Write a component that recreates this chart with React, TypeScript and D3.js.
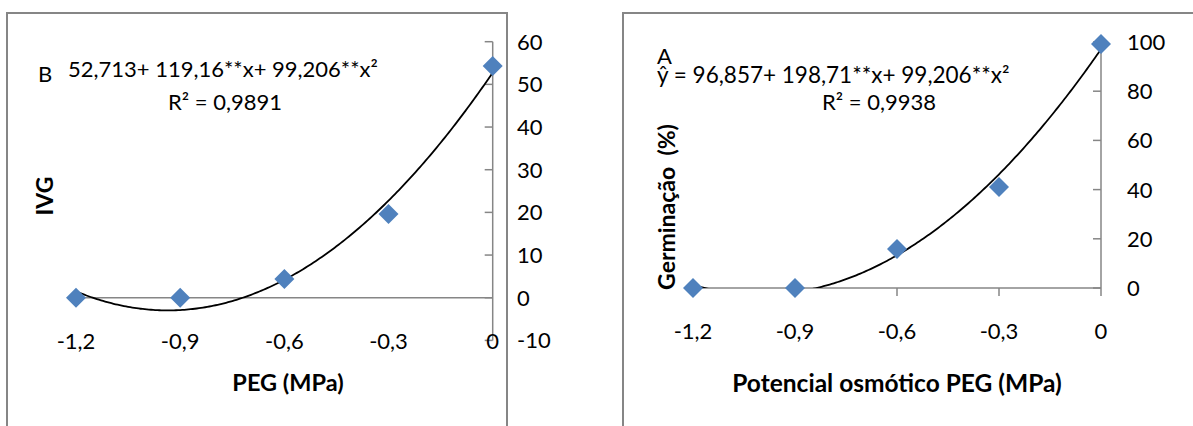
import React from "react";
import * as d3 from "d3";

// ---------- data ----------
const xValues = [-1.2, -0.9, -0.6, -0.3, 0];
const xTickLabels = ["-1,2", "-0,9", "-0,6", "-0,3", "0"];

const ivgValues = [0, 0, 4.4, 19.6, 54.3];
const ivgTicks = [-10, 0, 10, 20, 30, 40, 50, 60];

const germValues = [0, 0, 15.9, 41.1, 99.2];
const germTicks = [0, 20, 40, 60, 80, 100];

const FONT = "Lato, 'Open Sans', sans-serif";
const AXIS = "#868686";
const MARK = "#4f81bd";

function quadFit(xs: number[], ys: number[]) {
  // least squares y = a + b x + c x^2
  const n = xs.length;
  let s1 = 0, s2 = 0, s3 = 0, s4 = 0, t0 = 0, t1 = 0, t2 = 0;
  for (let i = 0; i < n; i++) {
    const x = xs[i], y = ys[i];
    s1 += x; s2 += x * x; s3 += x * x * x; s4 += x * x * x * x;
    t0 += y; t1 += x * y; t2 += x * x * y;
  }
  const M = [
    [n, s1, s2, t0],
    [s1, s2, s3, t1],
    [s2, s3, s4, t2],
  ];
  for (let i = 0; i < 3; i++) {
    let p = i;
    for (let r = i + 1; r < 3; r++) if (Math.abs(M[r][i]) > Math.abs(M[p][i])) p = r;
    [M[i], M[p]] = [M[p], M[i]];
    for (let r = 0; r < 3; r++) {
      if (r === i) continue;
      const f = M[r][i] / M[i][i];
      for (let k = i; k < 4; k++) M[r][k] -= f * M[i][k];
    }
  }
  const a = M[0][3] / M[0][0], b = M[1][3] / M[1][1], c = M[2][3] / M[2][2];
  return (x: number) => a + b * x + c * x * x;
}

type PanelProps = {
  id: string;
  values: number[];
  yTicks: number[];
  xRange: [number, number];
  yRange: [number, number];
  yLabelX: number;
  xLabelY: number;
  xTickMarks: boolean;
};

function Panel(p: PanelProps) {
  const x = d3.scaleLinear().domain([-1.2, 0]).range(p.xRange);
  const yDom = d3.extent(p.yTicks) as [number, number];
  const y = d3.scaleLinear().domain(yDom).range(p.yRange);
  const axisX = p.xRange[1];
  const zeroY = y(0);
  const fit = quadFit(xValues, p.values);
  const curvePts = d3.range(0, 201).map((i) => {
    const xv = -1.2 + (1.2 * i) / 200;
    return [x(xv), y(fit(xv))] as [number, number];
  });
  const line = d3.line();
  const clipId = "clip-" + p.id;
  const top = y(yDom[1]);
  const bottom = y(yDom[0]);
  return (
    <g>
      <defs>
        <clipPath id={clipId}>
          <rect x={p.xRange[0] - 20} y={top} width={axisX - p.xRange[0] + 20} height={bottom - top} />
        </clipPath>
      </defs>
      {/* x axis line */}
      <line x1={p.xRange[0]} x2={axisX} y1={zeroY} y2={zeroY} stroke={AXIS} strokeWidth={1.5} />
      {p.xTickMarks &&
        xValues.map((v, i) => (
          <line key={"xt" + i} x1={x(v)} x2={x(v)} y1={zeroY} y2={zeroY + 8} stroke={AXIS} strokeWidth={1.5} />
        ))}
      {/* y axis line */}
      <line x1={axisX} x2={axisX} y1={top} y2={bottom} stroke={AXIS} strokeWidth={1.5} />
      {p.yTicks.map((t) => (
        <line key={"yt" + t} x1={axisX - 8} x2={axisX} y1={y(t)} y2={y(t)} stroke={AXIS} strokeWidth={1.5} />
      ))}
      {p.yTicks.map((t) => (
        <text
          key={"yl" + t}
          x={p.yLabelX}
          y={y(t)}
          dy="0.36em"
          fontSize={22}
          fontFamily={FONT}
          fill="#000"
        >
          {String(t)}
        </text>
      ))}
      {xValues.map((v, i) => (
        <text
          key={"xl" + i}
          x={x(v)}
          y={p.xLabelY}
          dy="0.36em"
          textAnchor="middle"
          fontSize={22}
          fontFamily={FONT}
          fill="#000"
        >
          {xTickLabels[i]}
        </text>
      ))}
      {/* trend line */}
      <path d={line(curvePts) || ""} fill="none" stroke="#000" strokeWidth={1.8} clipPath={`url(#${clipId})`} />
      {/* markers */}
      {p.values.map((v, i) => {
        const cx = x(xValues[i]);
        const cy = y(v);
        const r = 10;
        return (
          <path
            key={"m" + i}
            d={`M${cx},${cy - r}L${cx + r},${cy}L${cx},${cy + r}L${cx - r},${cy}Z`}
            fill={MARK}
          />
        );
      })}
    </g>
  );
}

export default function App() {
  return (
    <svg
      width={1193}
      height={426}
      style={{ position: "absolute", left: 0, top: 0, background: "#fff" }}
    >
      <rect x={0} y={0} width={1193} height={426} fill="#fff" />
      {/* frames */}
      <rect x={7} y={13} width={500} height={500} fill="none" stroke={AXIS} strokeWidth={2} />
      <rect x={623} y={13} width={600} height={500} fill="none" stroke={AXIS} strokeWidth={2} />

      {/* Left panel: IVG */}
      <Panel
        id="ivg"
        values={ivgValues}
        yTicks={ivgTicks}
        xRange={[76, 492.7]}
        yRange={[340.4, 41.7]}
        yLabelX={517}
        xLabelY={341}
        xTickMarks={false}
      />
      <text x={38} y={82} fontSize={22} fontFamily={FONT}>B</text>
      <text x={68} y={77} fontSize={22} fontFamily={FONT}>52,713+ 119,16**x+ 99,206**x²</text>
      <text x={225} y={110} textAnchor="middle" fontSize={22} fontFamily={FONT}>R² = 0,9891</text>
      <text
        transform="translate(45,196) rotate(-90)"
        textAnchor="middle"
        dy="0.36em"
        fontSize={23}
        fontWeight="bold"
        fontFamily={FONT}
      >
        IVG
      </text>
      <text x={288} y={383} dy="0.36em" textAnchor="middle" fontSize={23.5} fontWeight="bold" fontFamily={FONT}>
        PEG (MPa)
      </text>

      {/* Right panel: Germinação */}
      <Panel
        id="germ"
        values={germValues}
        yTicks={germTicks}
        xRange={[693, 1101]}
        yRange={[288, 42]}
        yLabelX={1127}
        xLabelY={331}
        xTickMarks={true}
      />
      <text x={657} y={64} fontSize={22} fontFamily={FONT}>A</text>
      <text x={657} y={83} fontSize={22.5} fontFamily={FONT}>ŷ = 96,857+ 198,71**x+ 99,206**x²</text>
      <text x={879} y={110} textAnchor="middle" fontSize={22} fontFamily={FONT}>R² = 0,9938</text>
      <text
        transform="translate(667,207) rotate(-90)"
        textAnchor="middle"
        dy="0.36em"
        fontSize={23}
        fontWeight="bold"
        fontFamily={FONT}
        style={{ whiteSpace: "pre" }}
      >
        {"Germinação\u00A0\u00A0(%)"}
      </text>
      <text x={897} y={383} dy="0.36em" textAnchor="middle" fontSize={24.5} fontWeight="bold" fontFamily={FONT}>
        Potencial osmótico PEG (MPa)
      </text>
    </svg>
  );
}
